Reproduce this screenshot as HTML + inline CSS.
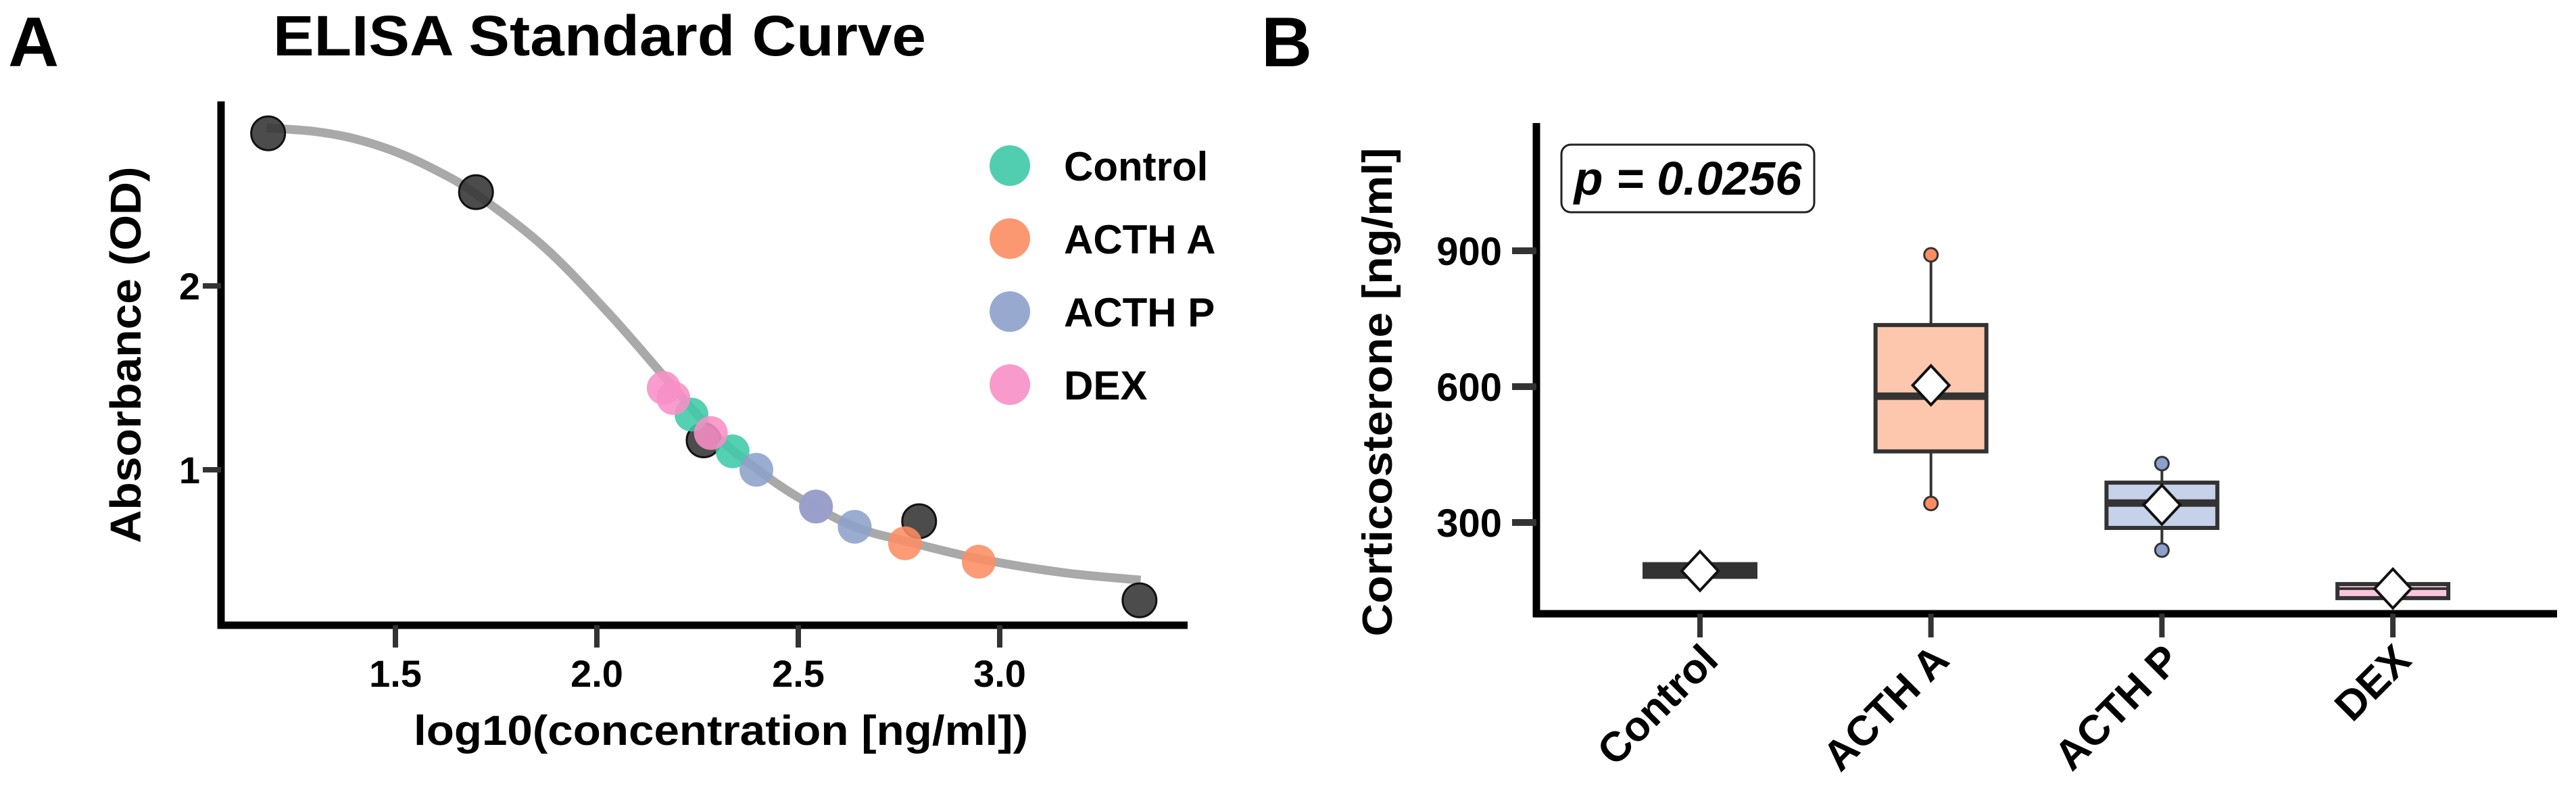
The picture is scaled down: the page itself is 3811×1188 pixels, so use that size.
<!DOCTYPE html>
<html><head><meta charset="utf-8"><style>
html,body{margin:0;padding:0;background:#fff;}
svg{display:block;font-family:"Liberation Sans",Arial,sans-serif;font-weight:bold;}
</style></head><body>
<svg id="fig" width="3811" height="1188" viewBox="0 0 3811 1188">
<text x="12" y="98" font-size="104">A</text>
<text x="404" y="82" font-size="84" textLength="966" lengthAdjust="spacingAndGlyphs">ELISA Standard Curve</text>
<text x="1866" y="98" font-size="104">B</text>
<g id="pa"></g>
<g id="pb"></g>
</svg>
<script>
// ---------- Panel A data ----------
const xTicksA = [1.5, 2.0, 2.5, 3.0];
const xTickLabelsA = ["1.5", "2.0", "2.5", "3.0"];
const yTicksA = [1, 2];
const yTickLabelsA = ["1", "2"];
const curveX = [1.18, 1.3, 1.4, 1.5, 1.6, 1.7, 1.87, 2.03, 2.17, 2.3, 2.4, 2.5, 2.64, 2.77, 2.95, 3.16, 3.35];
const curveY = [2.86, 2.84, 2.80, 2.73, 2.63, 2.50, 2.21, 1.85, 1.50, 1.18, 1.0, 0.85, 0.69, 0.61, 0.515, 0.44, 0.40];
const stdX = [1.184, 1.70, 2.265, 2.80, 3.347];
const stdY = [2.83, 2.51, 1.16, 0.72, 0.29];
const controlX = [2.235, 2.337];
const controlY = [1.30, 1.10];
const acthAX = [2.765, 2.948];
const acthAY = [0.60, 0.50];
const dexX = [2.166, 2.19, 2.283, 2.544];
const dexY = [1.445, 1.39, 1.20, 0.80];
const acthPX = [2.396, 2.544, 2.64];
const acthPY = [1.00, 0.80, 0.69];
const legendLabels = ["Control", "ACTH A", "ACTH P", "DEX"];

// ---------- Panel B data ----------
const groupsB = ["Control", "ACTH A", "ACTH P", "DEX"];
const q1B = [180, 457, 288, 133];
const medB = [195, 579, 343, 154];
const q3B = [208, 736, 388, 164];
const loB = [180, 342, 239, 133];
const hiB = [208, 891, 430, 164];
const meanB = [193, 603, 339, 154];
const yTicksB = [300, 600, 900];
const yTickLabelsB = ["300", "600", "900"];
const pText = "p = 0.0256";

const NS = "http://www.w3.org/2000/svg";
function mk(parent, tag, attrs) {
  const e = document.createElementNS(NS, tag);
  for (const k in attrs) e.setAttribute(k, attrs[k]);
  parent.appendChild(e);
  return e;
}
const COL = {control:"#3ec9a7", acthA:"#fc8d62", acthP:"#8da0cb", dex:"#f78fc6"};

// ---------- Panel A ----------
const pa = document.getElementById("pa");
const xA = v => 883 + (v - 2) * 596;
const yA = v => 695 - (v - 1) * 272;
{
  let e = mk(pa, "line", {x1:327, y1:150, x2:327, y2:930, stroke:"#000", "stroke-width":11});
  
  
  e = mk(pa, "line", {x1:322, y1:925, x2:1757, y2:925, stroke:"#000", "stroke-width":11});
  
  
  xTicksA.forEach((t, i) => {
    const tk = mk(pa, "line", {x1:xA(t), y1:925, x2:xA(t), y2:958, stroke:"#333", "stroke-width":8});
    
    
    const tl = mk(pa, "text", {x:xA(t), y:1016, "font-size":56, "text-anchor":"middle"});
    tl.textContent = xTickLabelsA[i];
    
    
  });
  yTicksA.forEach((t, i) => {
    const tk = mk(pa, "line", {x1:300, y1:yA(t), x2:327, y2:yA(t), stroke:"#333", "stroke-width":8});
    
    
    const tl = mk(pa, "text", {x:296, y:yA(t) + 20, "font-size":56, "text-anchor":"end"});
    tl.textContent = yTickLabelsA[i];
    
    
  });
  let t = mk(pa, "text", {x:612, y:1102, "font-size":62, textLength:909, lengthAdjust:"spacingAndGlyphs"});
  t.textContent = "log10(concentration [ng/ml])";
  
  
  t = mk(pa, "text", {x:0, y:0, "font-size":64, "text-anchor":"middle", textLength:557, lengthAdjust:"spacingAndGlyphs", transform:"translate(208,525) rotate(-90)"});
  t.textContent = "Absorbance (OD)";
  
  

  const P = curveX.map((x, i) => [xA(x), yA(curveY[i])]);
  let d = "M" + P[0][0] + "," + P[0][1];
  for (let i = 0; i < P.length - 1; i++) {
    const p0 = P[Math.max(0, i - 1)], p1 = P[i], p2 = P[i + 1], p3 = P[Math.min(P.length - 1, i + 2)];
    const c1 = [p1[0] + (p2[0] - p0[0]) / 6, p1[1] + (p2[1] - p0[1]) / 6];
    const c2 = [p2[0] - (p3[0] - p1[0]) / 6, p2[1] - (p3[1] - p1[1]) / 6];
    d += " C" + c1 + " " + c2 + " " + p2;
  }
  const cv = mk(pa, "path", {d:d, fill:"none", stroke:"#a9a9a9", "stroke-width":13});
  
  

  const series = [
    [stdX, stdY, "#333", "standard-point"],
    [controlX, controlY, COL.control, "control-point"],
    [acthAX, acthAY, COL.acthA, "acth-a-point"],
    [dexX, dexY, COL.dex, "dex-point"],
    [acthPX, acthPY, COL.acthP, "acth-p-point"]
  ];
  series.forEach(s => {
    s[0].forEach((x, i) => {
      const c = mk(pa, "circle", {cx:xA(x), cy:yA(s[1][i]), r:25, fill:s[2], "fill-opacity":0.88});
      if (s[3] === "standard-point") { c.setAttribute("stroke", "#111"); c.setAttribute("stroke-width", 3); }
      
      
    });
  });
  const lcols = [COL.control, COL.acthA, COL.acthP, COL.dex];
  legendLabels.forEach((l, i) => {
    const y = 245 + i * 108;
    const c = mk(pa, "circle", {cx:1494, cy:y, r:30, fill:lcols[i], "fill-opacity":0.9});
    
    
    const tx = mk(pa, "text", {x:1574, y:y + 22, "font-size":60});
    tx.textContent = l;
    
    
  });
}

// ---------- Panel B ----------
const pb = document.getElementById("pb");
const xB = i => 2515 + i * 341.7;
const yB = v => 773 - (v - 300) * 0.67;
{
  let e = mk(pb, "line", {x1:2273, y1:182, x2:2273, y2:913, stroke:"#000", "stroke-width":11});
  
  
  e = mk(pb, "line", {x1:2268, y1:908, x2:3783, y2:908, stroke:"#000", "stroke-width":11});
  
  
  yTicksB.forEach((t, i) => {
    const tk = mk(pb, "line", {x1:2237, y1:yB(t), x2:2273, y2:yB(t), stroke:"#333", "stroke-width":10});
    
    
    const tl = mk(pb, "text", {x:2222, y:yB(t) + 21, "font-size":58, "text-anchor":"end"});
    tl.textContent = yTickLabelsB[i];
    
    
  });
  let t = mk(pb, "text", {x:0, y:0, "font-size":62, "text-anchor":"middle", textLength:723, lengthAdjust:"spacingAndGlyphs", transform:"translate(2059,580) rotate(-90)"});
  t.textContent = "Corticosterone [ng/ml]";
  
  
  const pr = mk(pb, "rect", {x:2310, y:214, width:374, height:100, rx:14, fill:"#fff", stroke:"#222", "stroke-width":3});
  
  
  const pt = mk(pb, "text", {x:2497, y:288, "font-size":70, "text-anchor":"middle", "font-style":"italic"});
  pt.textContent = pText;
  
  

  const fills = ["#3ec9a7", "#fdc7ae", "#c6d1ea", "#f9c6de"];
  const dots = [COL.control, COL.acthA, COL.acthP, COL.dex];
  groupsB.forEach((g, i) => {
    const cx = xB(i);
    const tk = mk(pb, "line", {x1:cx, y1:908, x2:cx, y2:943, stroke:"#333", "stroke-width":8});
    
    
    const tl = mk(pb, "text", {x:0, y:0, "font-size":62, "text-anchor":"end", transform:"translate(" + (cx + 30) + ",980) rotate(-45)"});
    tl.textContent = g;
    
    
    const w = mk(pb, "line", {x1:cx, y1:yB(hiB[i]), x2:cx, y2:yB(loB[i]), stroke:"#333", "stroke-width":4});
    
    
    const bx = mk(pb, "rect", {x:cx - 82, y:yB(q3B[i]), width:164, height:Math.max(1, yB(q1B[i]) - yB(q3B[i])), fill:fills[i], stroke:"#333", "stroke-width":6});
    
    
    const md = mk(pb, "line", {x1:cx - 82, y1:yB(medB[i]), x2:cx + 82, y2:yB(medB[i]), stroke:"#333", "stroke-width":i === 0 ? 22 : (i === 3 ? 4 : 11)});
    
    
    if (hiB[i] > q3B[i]) {
      const d1 = mk(pb, "circle", {cx:cx, cy:yB(hiB[i]), r:10, fill:dots[i], stroke:"#333", "stroke-width":3});
      
      
    }
    if (loB[i] < q1B[i]) {
      const d2 = mk(pb, "circle", {cx:cx, cy:yB(loB[i]), r:10, fill:dots[i], stroke:"#333", "stroke-width":3});
      
      
    }
    const my = yB(meanB[i]);
    const dm = mk(pb, "polygon", {points:(cx - 27) + "," + my + " " + cx + "," + (my - 29) + " " + (cx + 27) + "," + my + " " + cx + "," + (my + 29), fill:"#fff", stroke:"#111", "stroke-width":4});
    
    
  });
}
</script>
</body></html>
